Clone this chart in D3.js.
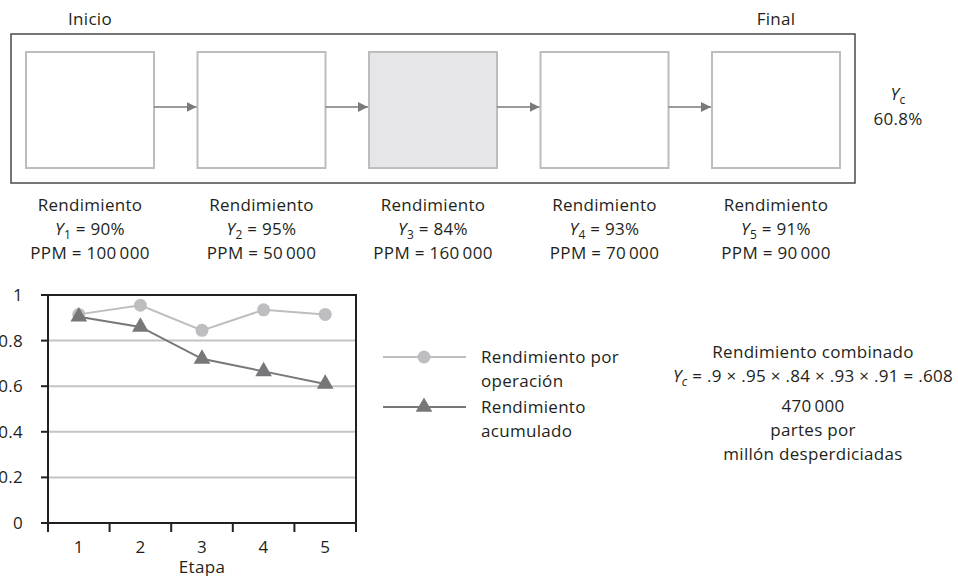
<!DOCTYPE html>
<html>
<head>
<meta charset="utf-8">
<script src="https://cdn.jsdelivr.net/npm/d3@7"></script>
<style>
  body { margin: 0; background: #fff; }
  svg text { font-family: "Open Sans", "Noto Sans", sans-serif; fill: #231f20; letter-spacing: 0.3px; }
</style>
</head>
<body>
<svg width="958" height="576"></svg>
<script>
// data
const stages = [1, 2, 3, 4, 5];
const yieldLabels = ['90%', '95%', '84%', '93%', '91%'];
const ppmLabels = ['100\u2009000', '50\u2009000', '160\u2009000', '70\u2009000', '90\u2009000'];
const opYield = [0.915, 0.955, 0.845, 0.935, 0.915];
const cumYield = [0.905, 0.86, 0.72, 0.665, 0.61];
const yTicks = [0, 0.2, 0.4, 0.6, 0.8, 1];
const yTickLabels = ['0', '0.2', '0.4', '0.6', '0.8', '1'];
const highlightStage = 3;

const fs = 17, fsSub = 12;
const svg = d3.select('svg');
const g = svg.append('g');

// ---------- process diagram ----------
const bx = d3.scalePoint().domain(stages).range([90, 776]);
const boxW = 128, boxTop = 52, boxH = 116, arrowY = 107;

g.append('rect')
  .attr('x', 11).attr('y', 34).attr('width', 844).attr('height', 149)
  .attr('fill', 'none').attr('stroke', '#4a4a4a').attr('stroke-width', 1.5);

svg.append('defs').append('marker')
  .attr('id', 'arr').attr('viewBox', '0 0 10 10').attr('refX', 10).attr('refY', 5)
  .attr('markerWidth', 10).attr('markerHeight', 10).attr('markerUnits', 'userSpaceOnUse')
  .attr('orient', 'auto')
  .append('path').attr('d', 'M0,0 L10,5 L0,10 Z').attr('fill', '#7a7a7c');

g.selectAll('.box').data(stages).enter().append('rect')
  .attr('class', 'box')
  .attr('x', d => bx(d) - boxW / 2).attr('y', boxTop)
  .attr('width', boxW).attr('height', boxH)
  .attr('fill', d => d === highlightStage ? '#e6e6e8' : '#fff')
  .attr('stroke', '#bdbdbf').attr('stroke-width', 2);

g.selectAll('.arrow').data(stages.slice(0, -1)).enter().append('line')
  .attr('x1', d => bx(d) + boxW / 2).attr('x2', d => bx(d + 1) - boxW / 2 - 1)
  .attr('y1', arrowY).attr('y2', arrowY)
  .attr('stroke', '#7a7a7c').attr('stroke-width', 1.3)
  .attr('marker-end', 'url(#arr)');

g.append('text').attr('x', bx(1)).attr('y', 25).attr('text-anchor', 'middle')
  .attr('font-size', fs).text('Inicio');
g.append('text').attr('x', bx(5)).attr('y', 25).attr('text-anchor', 'middle')
  .attr('font-size', fs).text('Final');

const yc = g.append('text').attr('x', 898).attr('y', 100).attr('text-anchor', 'middle').attr('font-size', fs);
yc.append('tspan').attr('font-style', 'italic').text('Y');
yc.append('tspan').attr('font-size', fsSub).attr('dy', 4).text('c');
g.append('text').attr('x', 898).attr('y', 125).attr('text-anchor', 'middle')
  .attr('font-size', fs).text('60.8%');

const lab = g.selectAll('.lab').data(stages).enter().append('g')
  .attr('transform', d => `translate(${bx(d)},0)`);
lab.append('text').attr('y', 211).attr('text-anchor', 'middle').attr('font-size', fs)
  .text('Rendimiento');
const yl = lab.append('text').attr('y', 235).attr('text-anchor', 'middle').attr('font-size', fs);
yl.append('tspan').attr('font-style', 'italic').text('Y');
yl.append('tspan').attr('font-size', fsSub).attr('dy', 4).text(d => d);
yl.append('tspan').attr('dy', -4).text((d, i) => ' = ' + yieldLabels[i]);
lab.append('text').attr('y', 259).attr('text-anchor', 'middle').attr('font-size', fs)
  .text((d, i) => 'PPM = ' + ppmLabels[i]);

// ---------- line chart ----------
const x = d3.scaleBand().domain(stages).range([48, 356]);
const y = d3.scaleLinear().domain([0, 1]).range([523, 295]);
const cx = d => x(d) + x.bandwidth() / 2;

g.selectAll('.grid').data(yTicks.filter(t => t > 0 && t < 1)).enter().append('line')
  .attr('x1', 48).attr('x2', 356).attr('y1', d => y(d)).attr('y2', d => y(d))
  .attr('stroke', '#c4c4c6').attr('stroke-width', 2);

// frame top/right
g.append('path')
  .attr('d', `M${x.range()[0]},${y(1)}H${x.range()[1]}V${y(0)}`)
  .attr('fill', 'none').attr('stroke', '#231f20').attr('stroke-width', 2);

// y axis
g.append('line').attr('x1', 48).attr('x2', 48).attr('y1', y(1)).attr('y2', y(0))
  .attr('stroke', '#231f20').attr('stroke-width', 2);
g.selectAll('.ytick').data(yTicks).enter().append('line')
  .attr('x1', 41).attr('x2', 48).attr('y1', d => y(d)).attr('y2', d => y(d))
  .attr('stroke', '#231f20').attr('stroke-width', 2);
g.selectAll('.ylab').data(yTicks).enter().append('text')
  .attr('x', 23).attr('y', d => y(d) + 6).attr('text-anchor', 'end').attr('font-size', fs)
  .text((d, i) => yTickLabels[i]);

// x axis
g.append('line').attr('x1', 48).attr('x2', 356).attr('y1', y(0)).attr('y2', y(0))
  .attr('stroke', '#231f20').attr('stroke-width', 2);
const xb = stages.map(d => x(d)).concat([x.range()[1]]);
g.selectAll('.xtick').data(xb).enter().append('line')
  .attr('x1', d => d).attr('x2', d => d).attr('y1', y(0)).attr('y2', y(0) + 9)
  .attr('stroke', '#231f20').attr('stroke-width', 2);
g.selectAll('.xlab').data(stages).enter().append('text')
  .attr('x', cx).attr('y', 553).attr('text-anchor', 'middle').attr('font-size', fs)
  .text(d => d);
g.append('text').attr('x', 202).attr('y', 573).attr('text-anchor', 'middle')
  .attr('font-size', fs).text('Etapa');

const line = d3.line().x((d, i) => cx(stages[i])).y(d => y(d));
const lightC = '#bebec0', darkC = '#77777a';

g.append('path').datum(opYield).attr('d', line)
  .attr('fill', 'none').attr('stroke', lightC).attr('stroke-width', 2);
g.selectAll('.dot').data(opYield).enter().append('circle')
  .attr('cx', (d, i) => cx(stages[i])).attr('cy', d => y(d)).attr('r', 6.5)
  .attr('fill', lightC);

const tri = d3.symbol().type(d3.symbolTriangle).size(120);
g.append('path').datum(cumYield).attr('d', line)
  .attr('fill', 'none').attr('stroke', darkC).attr('stroke-width', 2);
g.selectAll('.tri').data(cumYield).enter().append('path')
  .attr('d', tri)
  .attr('transform', (d, i) => `translate(${cx(stages[i])},${y(d)})`)
  .attr('fill', darkC);

// ---------- legend ----------
const leg = [
  { c: lightC, sym: 'circle', lines: ['Rendimiento por', 'operación'], y: 357 },
  { c: darkC, sym: 'tri', lines: ['Rendimiento', 'acumulado'], y: 407 }
];
leg.forEach(l => {
  g.append('line').attr('x1', 383).attr('x2', 466).attr('y1', l.y).attr('y2', l.y)
    .attr('stroke', l.c).attr('stroke-width', 2);
  if (l.sym === 'circle') {
    g.append('circle').attr('cx', 424).attr('cy', l.y).attr('r', 6.5).attr('fill', l.c);
  } else {
    g.append('path').attr('d', tri).attr('transform', `translate(424,${l.y})`).attr('fill', l.c);
  }
  l.lines.forEach((t, k) => {
    g.append('text').attr('x', 481).attr('y', l.y + 6 + k * 24).attr('font-size', fs).text(t);
  });
});

// ---------- combined yield text ----------
const rx = 813;
g.append('text').attr('x', rx).attr('y', 358).attr('text-anchor', 'middle').attr('font-size', fs)
  .text('Rendimiento combinado');
const f = g.append('text').attr('x', rx).attr('y', 382).attr('text-anchor', 'middle').attr('font-size', fs);
f.append('tspan').attr('font-style', 'italic').text('Y');
f.append('tspan').attr('font-size', fsSub).attr('font-style', 'italic').attr('dy', 4).text('c');
f.append('tspan').attr('dy', -4).text(' = .9 × .95 × .84 × .93 × .91 = .608');
['470\u2009000', 'partes por', 'millón desperdiciadas'].forEach((t, k) => {
  g.append('text').attr('x', rx).attr('y', 412 + k * 24).attr('text-anchor', 'middle')
    .attr('font-size', fs).text(t);
});
</script>
</body>
</html>
